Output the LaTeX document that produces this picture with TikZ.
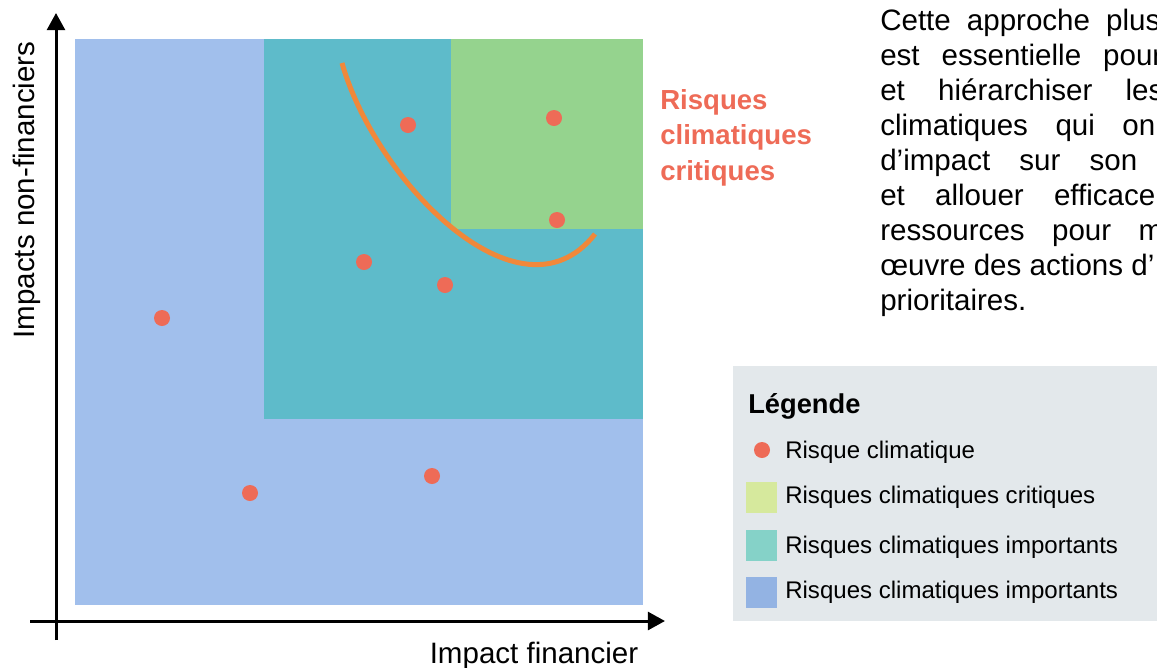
\documentclass[tikz,border=0pt]{standalone}
\usepackage{fontspec}
\setmainfont{Liberation Sans}
\newcommand{\risque}[2]
	{
	\node[point] (#1) at (#2) {};
	}
\newcommand{\ligne}[4]
	{
	\node[texte] (#1) at (880,#2) {\makebox[#3][s]{#4}};
	}
\usetikzlibrary{calc,positioning,arrows.meta}

\definecolor{zonebleue}{HTML}{A1BFEC}
\definecolor{zoneturq}{HTML}{5EBBCA}
\definecolor{zoneverte}{HTML}{95D38E}
\definecolor{rougepoint}{HTML}{EE6B57}
\definecolor{courbeorange}{HTML}{F0883A}
\definecolor{fondlegende}{HTML}{E3E8EB}
\definecolor{legverte}{HTML}{D6E99D}
\definecolor{legturq}{HTML}{85D2C8}
\definecolor{legbleue}{HTML}{93B3E3}

\begin{document}
\begin{tikzpicture}[x=0.025cm,y=-0.025cm,
	point/.style={circle,fill=rougepoint,inner sep=0pt,minimum size=0.4cm},
	carre/.style={rectangle,inner sep=0pt,minimum size=0.775cm},
	axe/.style={line width=0.075cm,-{Triangle[length=0.43cm,width=0.45cm]}},
	courbe/.style={courbeorange,line width=0.125cm},
	texte/.style={anchor=base west,inner sep=0pt,font=\fontsize{21}{25}\selectfont},
	petit/.style={anchor=base west,inner sep=0pt,font=\fontsize{17.1}{20}\selectfont}]
\useasboundingbox (0,0) rectangle (1157,667);

% zones de risque
\fill[zonebleue] (75,39) rectangle (643,605);
\fill[zoneturq] (264,39) rectangle (643,419);
\fill[zoneverte] (451,39) rectangle (643,229);

% axes
\coordinate (Ybas) at (56,640);
\coordinate (Yhaut) at (56,13);
\coordinate (Xgauche) at (30,621);
\coordinate (Xdroite) at (665,621);
\draw[axe] (Ybas) -- (Yhaut);
\draw[axe] (Xgauche) -- (Xdroite);
\node[rotate=90,anchor=base,inner sep=0pt,font=\fontsize{21}{25}\selectfont] (titrey) at (34,190) {Impacts non-financiers};
\node[anchor=base,inner sep=0pt,font=\fontsize{21}{25}\selectfont] (titrex) at (534,663) {Impact financier};

% courbe des risques critiques
\draw[courbe] (342,63) .. controls (375,180) and (520,330) .. (595,234);

% risques climatiques
\risque{r1}{162,318}
\risque{r2}{250,493}
\risque{r3}{432,476}
\risque{r4}{364,262}
\risque{r5}{445,285}
\risque{r6}{408,125}
\risque{r7}{554,118}
\risque{r8}{557,220}

% etiquette rouge
\node[anchor=base west,inner sep=0pt,align=left,text=rougepoint,
	font=\fontsize{19.6}{25.2}\selectfont\bfseries] (critiques) at (660,180)
	{Risques\\climatiques\\critiques};

% paragraphe
\ligne{l1}{30}{7cm}{Cette approche plus}
\ligne{l2}{65}{7.05cm}{est essentielle pour}
\ligne{l3}{100}{7.075cm}{et hiérarchiser les}
\ligne{l4}{135}{6.875cm}{climatiques qui on}
\ligne{l5}{170}{6.425cm}{d’impact sur son}
\ligne{l6}{205}{6.875cm}{et allouer efficace}
\ligne{l7}{240}{7.075cm}{ressources pour m}
\node[texte] (l8) at (880,275) {œuvre des actions d’};
\node[texte] (l9) at (880,310) {prioritaires.};

% legende
\fill[fondlegende] (733,366) rectangle (1157,621);
\node[anchor=base west,inner sep=0pt,font=\fontsize{19.4}{24}\selectfont\bfseries] (leg) at (748,413) {Légende};
\node[point] (p0) at (762,450) {};
\node[petit] (t0) at (785,458) {Risque climatique};
\node[carre,fill=legverte] (c1) at (761.5,497) {};
\node[petit] (t1) at (785,503) {Risques climatiques critiques};
\node[carre,fill=legturq] (c2) at (761.5,545.5) {};
\node[petit] (t2) at (785,553) {Risques climatiques importants};
\node[carre,fill=legbleue] (c3) at (761.5,592.5) {};
\node[petit] (t3) at (785,598) {Risques climatiques importants};

\end{tikzpicture}
\end{document}
